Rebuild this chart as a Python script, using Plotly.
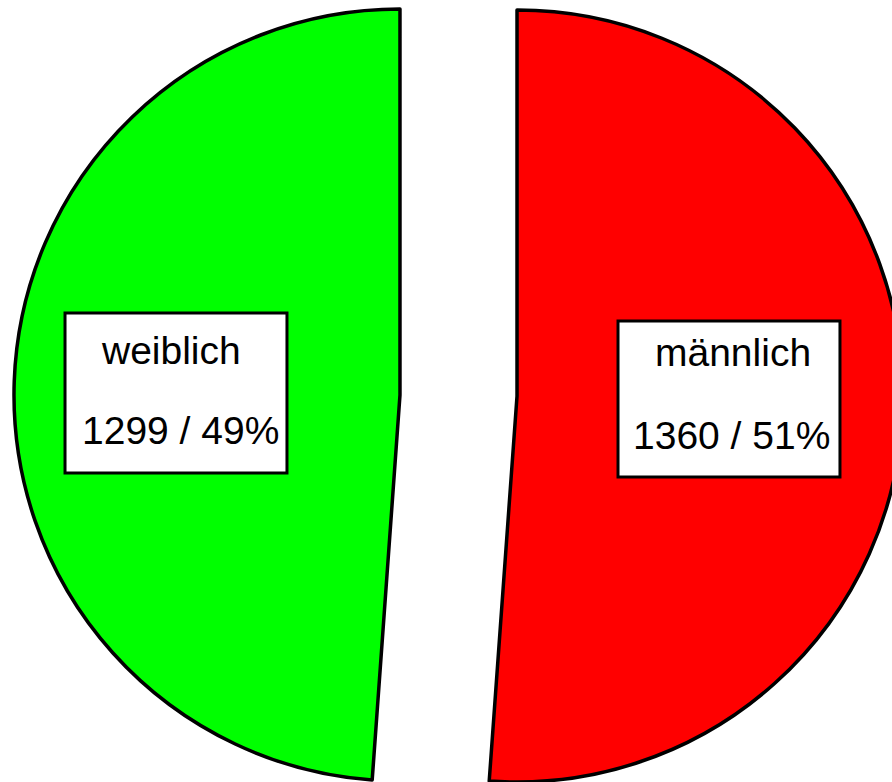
import plotly.graph_objects as go

# Data
categories = ["männlich", "weiblich"]
counts = [1360, 1299]
colors = ["#ff0000", "#00ff00"]

total = sum(counts)
percents = [round(100 * c / total) for c in counts]

W, H = 903, 782

fig = go.Figure()

# One pie trace per slice, so each slice can be placed (exploded) independently
domains = [
    dict(x=[0.1451, 1.0], y=[0.0, 0.9872]),         # männlich (pulled right)
    dict(x=[0.0155, 0.8704], y=[0.00128, 0.98849]),  # weiblich (pulled left)
]
for i, cat in enumerate(categories):
    fill = ["rgba(0,0,0,0)"] * len(categories)
    lcol = ["rgba(0,0,0,0)"] * len(categories)
    lw = [0] * len(categories)
    fill[i] = colors[i]
    lcol[i] = "black"
    lw[i] = 3.5
    fig.add_trace(go.Pie(
        labels=categories,
        values=counts,
        sort=False,
        direction="clockwise",
        rotation=0,
        marker=dict(colors=fill, line=dict(color=lcol, width=lw)),
        textinfo="none",
        hoverinfo="skip",
        showlegend=False,
        domain=domains[i],
    ))

# Label boxes
boxes = {
    "weiblich": dict(x0=0.0720, x1=0.3178, y0=0.3951, y1=0.5997,
                     name_xy=(0.1894, 0.5524), val_xy=(0.2004, 0.4501)),
    "männlich": dict(x0=0.6844, x1=0.9302, y0=0.3900, y1=0.5895,
                     name_xy=(0.8117, 0.5486), val_xy=(0.8106, 0.4437)),
}
shapes = []
annotations = []
font = dict(family="Liberation Sans, Arial", size=39, color="black")
for cat, cnt, pct in zip(categories, counts, percents):
    b = boxes[cat]
    shapes.append(dict(type="rect", xref="paper", yref="paper",
                       x0=b["x0"], x1=b["x1"], y0=b["y0"], y1=b["y1"],
                       fillcolor="white", line=dict(color="black", width=3),
                       layer="above"))
    annotations.append(dict(text=cat, xref="paper", yref="paper",
                            x=b["name_xy"][0], y=b["name_xy"][1],
                            xanchor="center", yanchor="middle", showarrow=False,
                            font=font))
    annotations.append(dict(text=f"{cnt} / {pct}%", xref="paper", yref="paper",
                            x=b["val_xy"][0], y=b["val_xy"][1],
                            xanchor="center", yanchor="middle", showarrow=False,
                            font=font))

fig.update_layout(
    width=W, height=H,
    margin=dict(l=0, r=0, t=0, b=0),
    paper_bgcolor="white",
    plot_bgcolor="white",
    shapes=shapes,
    annotations=annotations,
)

fig.write_html(
    "out.html",
    config={"displayModeBar": False},
    post_script="document.body.style.margin='0';document.body.style.overflow='hidden';"
                "document.documentElement.style.overflow='hidden';",
)
